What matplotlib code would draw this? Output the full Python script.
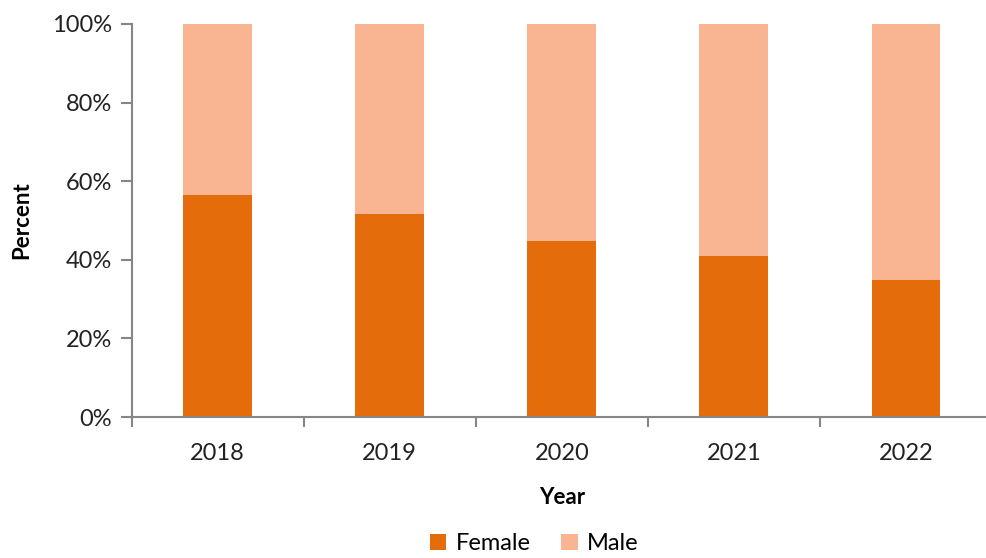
import numpy as np
import matplotlib.pyplot as plt
from matplotlib.ticker import FuncFormatter

years = ['2018', '2019', '2020', '2021', '2022']
female = [56.5, 51.7, 44.8, 41.0, 34.9]
male = [100 - f for f in female]

plt.rcParams['font.family'] = ['Lato', 'DejaVu Sans']

fig = plt.figure(figsize=(9.86, 5.58), dpi=100)
ax = fig.add_axes([131.5 / 986, 141 / 558, 860.5 / 986, 393 / 558])

x = np.arange(len(years))
ax.bar(x, female, width=0.4, color='#E46C0A', label='Female')
ax.bar(x, male, width=0.4, bottom=female, color='#F9B591', label='Male')

ax.set_xlim(-0.5, len(years) - 0.5)
ax.set_ylim(0, 100)
ax.set_yticks(range(0, 101, 20))
ax.yaxis.set_major_formatter(FuncFormatter(lambda v, p: '%d%%' % v))

# category labels centred, tick marks on boundaries
ax.set_xticks(np.arange(-0.5, len(years), 1.0))
ax.set_xticklabels([])
ax.set_xticks(x, minor=True)
ax.set_xticklabels(years, minor=True)
ax.tick_params(axis='x', which='minor', length=0, pad=19, labelsize=17, colors='#222222')
ax.tick_params(axis='x', which='major', length=7, width=1.5, color='#868686', direction='out')
ax.tick_params(axis='y', length=8, width=1.5, color='#868686', labelsize=17, labelcolor='#222222', pad=6)

for s in ['top', 'right']:
    ax.spines[s].set_visible(False)
for s in ['left', 'bottom']:
    ax.spines[s].set_color('#868686')
    ax.spines[s].set_linewidth(1.5)

ax.set_xlabel('Year', fontsize=16, fontweight='bold', labelpad=16)
ax.set_ylabel('Percent', fontsize=16, fontweight='bold', labelpad=14)

ax.legend(loc='center', bbox_to_anchor=(0.468, -0.322), ncol=2, frameon=False,
          fontsize=17, handlelength=0.7, handleheight=0.7, handletextpad=0.4,
          columnspacing=1.3, borderpad=0)

fig.savefig('out.png', dpi=100)
